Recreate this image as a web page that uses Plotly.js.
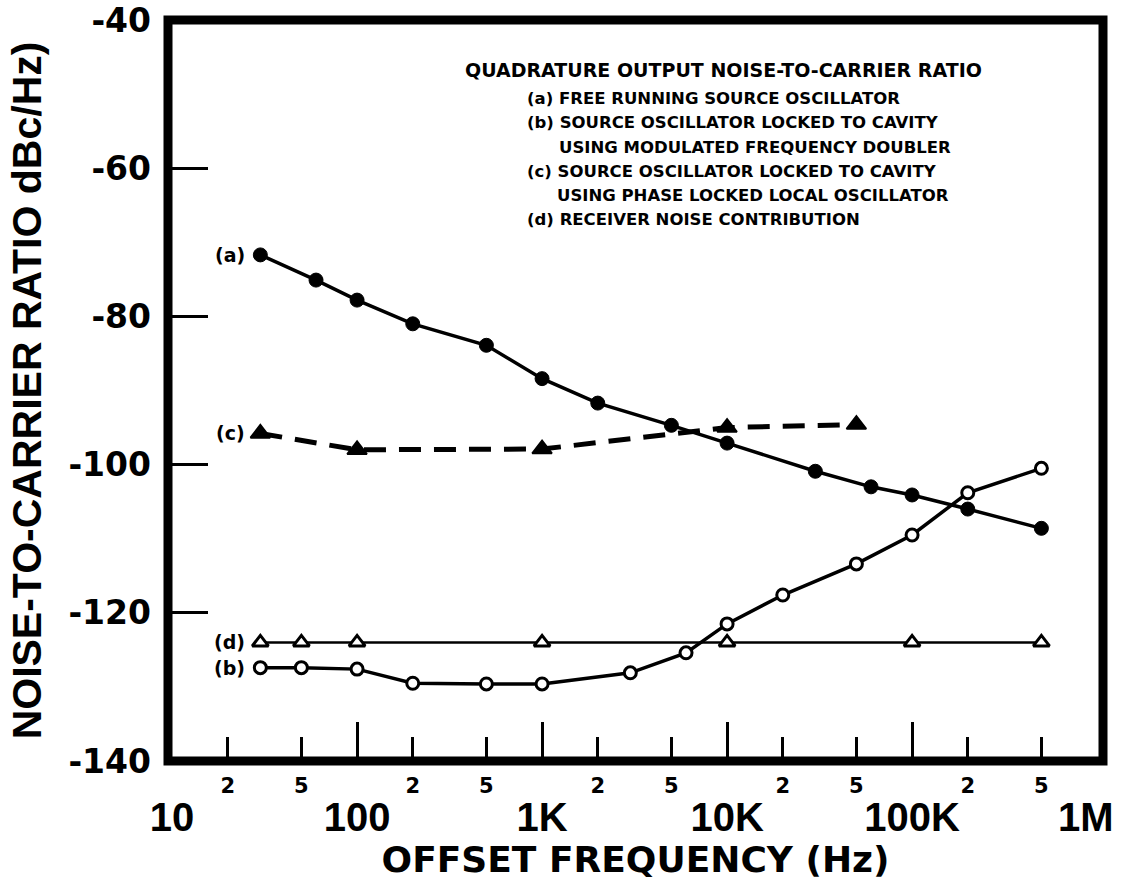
<!DOCTYPE html>
<html>
<head>
<meta charset="utf-8">
<script src="https://cdn.plot.ly/plotly-3.0.1.min.js"></script>
<style>html,body{margin:0;padding:0;background:#fff;}</style>
</head>
<body>
<div id="chart" style="width:1123px;height:888px;"></div>
<script>
// ---- data ----
const freqA = [30, 60, 100, 200, 500, 1000, 2000, 5000, 10000, 30000, 60000, 100000, 200000, 500000];
const noiseA = [-71.7, -75.1, -77.8, -81.0, -83.9, -88.4, -91.7, -94.7, -97.1, -100.9, -103.0, -104.1, -106.0, -108.6];

const freqB = [30, 50, 100, 200, 500, 1000, 3000, 6000, 10000, 20000, 50000, 100000, 200000, 500000];
const noiseB = [-127.4, -127.4, -127.6, -129.5, -129.6, -129.6, -128.1, -125.4, -121.5, -117.6, -113.4, -109.5, -103.8, -100.5];

const freqC = [30, 100, 1000, 10000, 50000];
const noiseC = [-95.8, -98.0, -97.9, -95.0, -94.6];

const freqD = [30, 50, 100, 1000, 10000, 100000, 500000];
const noiseD = [-124, -124, -124, -124, -124, -124, -124];

const seriesLabels = ['(a)', '(b)', '(c)', '(d)'];

const majorLabelVals = [10, 100, 1000, 10000, 100000];
const majorLabelText = ['10', '100', '1K', '10K', '100K'];
const endLabelVal = 1000000;
const endLabelText = '1M';
const majorTickVals = [100, 1000, 10000, 100000];
const minorVals = [20, 50, 200, 500, 2000, 5000, 20000, 50000, 200000, 500000];
const minorText = ['2', '5', '2', '5', '2', '5', '2', '5', '2', '5'];

const yVals = [-140, -120, -100, -80, -60, -40];
const yText = ['-140', '-120', '-100', '-80', '-60', '-40'];

const legendTitle = 'QUADRATURE OUTPUT NOISE-TO-CARRIER RATIO';
const legendLines = [
  '(a) FREE RUNNING SOURCE OSCILLATOR',
  '(b) SOURCE OSCILLATOR LOCKED TO CAVITY',
  'USING MODULATED FREQUENCY DOUBLER',
  '(c) SOURCE OSCILLATOR LOCKED TO CAVITY',
  'USING PHASE LOCKED LOCAL OSCILLATOR',
  '(d) RECEIVER NOISE CONTRIBUTION'
];

const xTitle = 'OFFSET FREQUENCY (Hz)';
const yTitle = 'NOISE-TO-CARRIER RATIO dBc/Hz)';

// ---- font availability check for the condensed y title ----
function hasFont(name) {
  const c = document.createElement('canvas').getContext('2d');
  const s = 'NOISE-TO-CARRIER RATIO';
  c.font = 'bold 40px monospace';
  const a = c.measureText(s).width;
  c.font = 'bold 40px "' + name + '", monospace';
  const b = c.measureText(s).width;
  return Math.abs(a - b) > 0.5;
}
const narrow = hasFont('Liberation Sans Narrow');
const yTitleFont = narrow
  ? {family: 'Liberation Sans Narrow', size: 48, weight: 'bold', color: '#000'}
  : {family: 'Liberation Sans, Arial, sans-serif', size: 41, weight: 'bold', color: '#000'};

const ink = '#000';
const xRange = [0.978, 6.032];
const majorFont = {family: 'Liberation Sans, Arial, sans-serif', size: 40, weight: 'bold', color: ink};

const traces = [
  {x: freqA, y: noiseA, mode: 'lines+markers', line: {color: ink, width: 3.5},
   marker: {symbol: 'circle', size: 14, color: ink, line: {color: ink, width: 1}}},
  {x: freqB, y: noiseB, mode: 'lines+markers', line: {color: ink, width: 3.5},
   marker: {symbol: 'circle', size: 12, color: '#fff', line: {color: ink, width: 3}}},
  {x: freqC, y: noiseC, mode: 'lines+markers', line: {color: ink, width: 5, dash: '22px,13px'},
   marker: {symbol: 'triangle-up', size: 17, color: ink, line: {color: ink, width: 2}}},
  {x: freqD, y: noiseD, xaxis: 'x2', mode: 'lines+markers', line: {color: ink, width: 2.5},
   marker: {symbol: 'triangle-up', size: 14, color: '#fff', line: {color: ink, width: 3}}}
];

const firstPts = [[freqA[0], noiseA[0]], [freqB[0], noiseB[0]], [freqC[0], noiseC[0]], [freqD[0], noiseD[0]]];

const annotations = [];
firstPts.forEach((p, i) => {
  annotations.push({
    x: Math.log10(p[0]), y: p[1], xref: 'x', yref: 'y', text: seriesLabels[i],
    showarrow: false, xanchor: 'right', yanchor: 'middle', xshift: -13,
    font: {family: 'DejaVu Sans', size: 19, weight: 'bold', color: ink}
  });
});

// end-of-axis label "1M", nudged inward as in the reference
annotations.push({
  x: Math.log10(endLabelVal), y: -0.0756, xref: 'x', yref: 'paper', text: endLabelText,
  showarrow: false, xanchor: 'center', yanchor: 'middle', xshift: -11, font: majorFont
});

annotations.push({
  x: 0.3155, y: 0.9325, xref: 'paper', yref: 'paper', text: legendTitle, showarrow: false,
  xanchor: 'left', yanchor: 'middle', font: {family: 'DejaVu Sans', size: 19, weight: 'bold', color: ink}
});
const legX = [0.3818, 0.3818, 0.416, 0.3818, 0.4139, 0.3818];
const legY = [0.8947, 0.861, 0.8286, 0.7949, 0.7625, 0.7301];
legendLines.forEach((t, i) => {
  annotations.push({
    x: legX[i], y: legY[i], xref: 'paper', yref: 'paper', text: t, showarrow: false,
    xanchor: 'left', yanchor: 'middle', font: {family: 'DejaVu Sans', size: 16.5, weight: 'bold', color: ink}
  });
});

const layout = {
  width: 1123, height: 888,
  margin: {l: 168, r: 20, t: 20, b: 127},
  paper_bgcolor: '#fff', plot_bgcolor: '#fff',
  showlegend: false,
  font: {family: 'DejaVu Sans', color: ink},
  xaxis: {
    type: 'log', range: xRange, tickmode: 'array', tickvals: majorLabelVals, ticktext: majorLabelText,
    ticks: '', showgrid: false, zeroline: false, showline: false,
    tickfont: majorFont,
    ticklabelstandoff: 29,
    minor: {tickmode: 'array', tickvals: majorTickVals, ticks: 'inside', ticklen: 39, tickwidth: 3, tickcolor: ink, showgrid: false},
    title: {text: xTitle, font: {family: 'DejaVu Sans', size: 36, weight: 'bold', color: ink}, standoff: 8}
  },
  xaxis2: {
    type: 'log', range: xRange, overlaying: 'x', anchor: 'y', side: 'bottom',
    tickmode: 'array', tickvals: minorVals, ticktext: minorText,
    ticks: 'inside', ticklen: 24, tickwidth: 3, tickcolor: ink,
    showgrid: false, zeroline: false, showline: false,
    tickfont: {family: 'DejaVu Sans', size: 21, weight: 'bold', color: ink},
    ticklabelstandoff: 10
  },
  yaxis: {
    range: [-140, -40], tickmode: 'array', tickvals: yVals, ticktext: yText,
    ticks: 'inside', ticklen: 40, tickwidth: 3, tickcolor: ink,
    showgrid: false, zeroline: false, showline: false,
    tickfont: {family: 'DejaVu Sans', size: 33, weight: 'bold', color: ink},
    ticklabelstandoff: 16,
    title: {text: yTitle, font: yTitleFont, standoff: 14}
  },
  shapes: [{type: 'rect', xref: 'paper', yref: 'paper', x0: 0, x1: 1, y0: 0, y1: 1,
            line: {color: ink, width: 9}, layer: 'above'}],
  annotations: annotations
};

Plotly.newPlot('chart', traces, layout, {staticPlot: true, displayModeBar: false});
</script>
</body>
</html>
